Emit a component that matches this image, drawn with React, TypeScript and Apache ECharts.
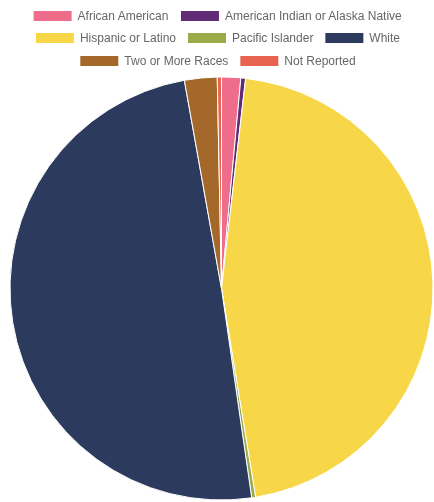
import React, { useEffect, useRef } from "react";
import * as echarts from "echarts";

const categories = [
  "African American",
  "American Indian or Alaska Native",
  "Hispanic or Latino",
  "Pacific Islander",
  "White",
  "Two or More Races",
  "Not Reported",
];
const values = [1.46, 0.36, 45.6, 0.3, 49.47, 2.49, 0.32];
const colors = ["#EE6D8A", "#612B76", "#F7D748", "#9BAB4A", "#2C3A5D", "#A3682A", "#E8644F"];
const legendRows = [
  ["African American", "American Indian or Alaska Native"],
  ["Hispanic or Latino", "Pacific Islander", "White"],
  ["Two or More Races", "Not Reported"],
];
const legendTops = [9, 31, 54];

export default function App() {
  const ref = useRef<HTMLDivElement>(null);
  useEffect(() => {
    if (!ref.current) return;
    const chart = echarts.init(ref.current, undefined, { renderer: "svg" });
    chart.setOption({
      animation: false,
      color: colors,
      legend: legendRows.map((row, i) => ({
        data: row,
        top: legendTops[i],
        left: "center",
        padding: 0,
        itemWidth: 40,
        itemHeight: 12,
        itemGap: 10,
        icon: "rect",
        selectedMode: false,
        textStyle: { color: "#666", fontSize: 12, fontFamily: "Liberation Sans, Arial, sans-serif" },
      })),
      series: [
        {
          type: "pie",
          center: [221.5, 288.5],
          radius: [0, 211.5],
          startAngle: 90,
          clockwise: true,
          label: { show: false },
          labelLine: { show: false },
          emphasis: { disabled: true },
          itemStyle: { borderColor: "#fff", borderWidth: 1 },
          data: categories.map((name, i) => ({ name, value: values[i] })),
        },
      ],
    });
    return () => chart.dispose();
  }, []);
  return (
    <div
      ref={ref}
      style={{ position: "fixed", left: 0, top: 0, width: 434, height: 502 }}
    />
  );
}
